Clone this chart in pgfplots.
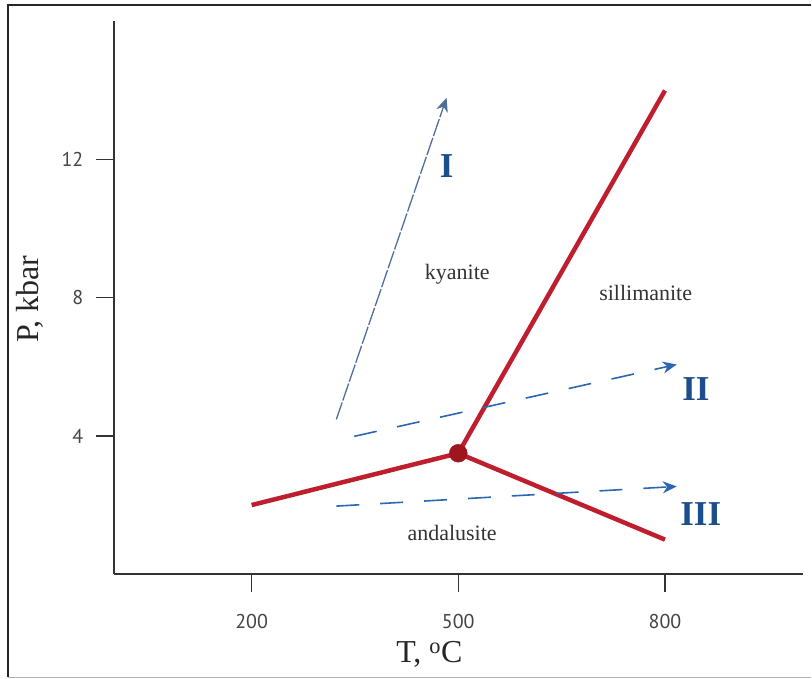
\documentclass[border=0pt]{standalone}
\usepackage{fontspec}
\setmainfont{Liberation Serif}
\newfontfamily\tickfont{PT Sans}
\usepackage{pgfplots}
\pgfplotsset{compat=1.18}
\usetikzlibrary{arrows.meta}
\definecolor{phasered}{HTML}{BE1E2D}
\definecolor{dotred}{HTML}{A0161E}
\definecolor{pathblue}{HTML}{2B67B0}
\definecolor{pathgray}{HTML}{4F6E9C}
\definecolor{numblue}{HTML}{1D4E8C}
\definecolor{tickgray}{HTML}{444444}
\definecolor{textgray}{HTML}{333333}

\begin{document}
\begin{tikzpicture}
\begin{axis}[
    scale only axis,
    width=690bp, height=553.6bp,
    xmin=0, xmax=1000, ymin=0, ymax=16,
    axis x line=bottom, axis y line=left,
    axis line style={-, line width=1.6bp, draw=black!80},
    xtick={200,500,800}, ytick={4,8,12},
    tick align=outside,
    major tick length=18bp,
    every tick/.style={line width=1.3bp, black!80},
    /pgf/number format/assume math mode=true,
    ticklabel style={font=\tickfont\fontsize{20bp}{24bp}\selectfont, text=tickgray},
    xticklabel style={yshift=-19bp},
    yticklabel style={xshift=-9bp},
    xlabel={T, \textsuperscript{o}C},
    ylabel={P, kbar},
    label style={font=\fontsize{32bp}{36bp}\selectfont, text=black!85},
    xlabel style={at={(axis description cs:0.458,-0.1445)}, anchor=center},
    ylabel style={at={(axis description cs:-0.1217,0.497)}, anchor=center},
    clip=false,
]
% phase boundaries
\addplot[phasered, line width=4.5bp] coordinates {(200,2.0) (500,3.5) (800,14.0)};
\addplot[phasered, line width=4.5bp] coordinates {(500,3.5) (800,1.0)};
\addplot[only marks, mark=*, mark size=9bp, color=dotred] coordinates {(500,3.5)};
% P-T paths
\addplot[pathgray, line width=1.3bp, dash pattern=on 18bp off 2bp,
    -{Stealth[length=14bp,width=12bp]}] coordinates {(323,4.48) (483,13.79)};
\addplot[pathblue, line width=1.6bp, dash pattern=on 23bp off 21bp,
    -{Stealth[length=14bp,width=12bp]}] coordinates {(349,3.99) (817,6.07)};
\addplot[pathblue, line width=1.6bp, dash pattern=on 23bp off 21bp,
    -{Stealth[length=14bp,width=12bp]}] coordinates {(323,1.97) (817,2.54)};
% labels
\node[font=\fontsize{22bp}{26bp}\selectfont, text=textgray] at (axis cs:498.6,8.67) {kyanite};
\node[font=\fontsize{22bp}{26bp}\selectfont, text=textgray] at (axis cs:772,8.15) {sillimanite};
\node[font=\fontsize{22bp}{26bp}\selectfont, text=textgray] at (axis cs:491,1.18) {andalusite};
\node[font=\bfseries\fontsize{35bp}{40bp}\selectfont, text=numblue] at (axis cs:483,11.8) {I};
\node[font=\bfseries\fontsize{35bp}{40bp}\selectfont, text=numblue] at (axis cs:845,5.35) {II};
\node[font=\bfseries\fontsize{35bp}{40bp}\selectfont, text=numblue] at (axis cs:852,1.75) {III};
% frame
\draw[line width=2.5bp, black!85] (axis cs:-153.6,-2.977) -- (axis cs:-153.6,16.47) -- (axis cs:1011.6,16.47);
\draw[line width=1bp, black!30] (axis cs:-153.6,-2.977) -- (axis cs:1011.6,-2.977);
\path (axis cs:-165.2,-3.006) rectangle (axis cs:1011.6,16.62);
\end{axis}
\end{tikzpicture}
\end{document}
